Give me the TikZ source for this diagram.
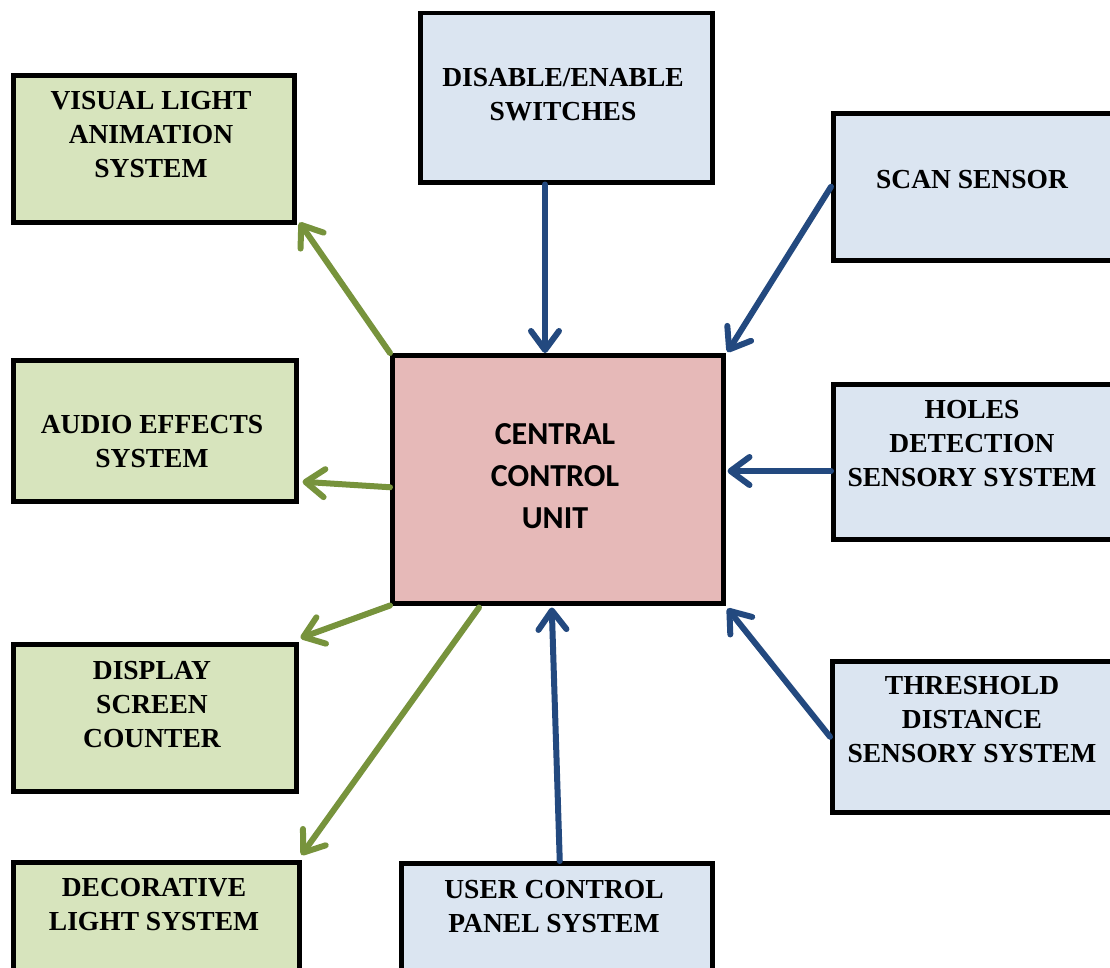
\documentclass[tikz,border=0pt]{standalone}
\usepackage{fontspec}
\setmainfont{Liberation Serif}
\newfontfamily\calib{Carlito}
\usetikzlibrary{arrows.meta,calc}
\definecolor{gfill}{HTML}{D7E4BD}
\definecolor{bfill}{HTML}{DBE5F1}
\definecolor{pfill}{HTML}{E6B9B8}
\definecolor{garrow}{HTML}{77933C}
\definecolor{barrow}{HTML}{23497F}
\begin{document}
\begin{tikzpicture}[x=1pt,y=-1pt,
  box/.style={draw=black, line width=4.5pt, inner sep=0pt, anchor=north west},
  gbox/.style={box, fill=gfill},
  bbox/.style={box, fill=bfill},
  pbox/.style={box, fill=pfill},
  txt/.style={align=center, inner sep=0pt, font=\fontsize{27.5}{34}\selectfont\bfseries},
  ctxt/.style={align=center, inner sep=0pt, font=\fontsize{32}{42}\selectfont\calib\bfseries},
  tip/.style={-{Straight Barb[length=19pt,width=28pt,line cap=round,round]}},
  garr/.style={tip, draw=garrow, line width=6pt, line cap=round},
  barr/.style={tip, draw=barrow, line width=6pt, line cap=round}]
\clip (0,0) rectangle (1110,967);
\fill[white] (0,0) rectangle (1110,967);
% boxes
\node[gbox, minimum width=281pt, minimum height=147pt] (vla) at (11,73) {};
\node[bbox, minimum width=292pt, minimum height=169.5pt] (swi) at (418,10.5) {};
\node[bbox, minimum width=300pt, minimum height=147pt] (scan) at (831,111) {};
\node[gbox, minimum width=283pt, minimum height=141pt] (aud) at (11,358) {};
\node[pbox, minimum width=331pt, minimum height=248pt] (cen) at (390,353) {};
\node[bbox, minimum width=300pt, minimum height=155pt] (hol) at (831,382) {};
\node[gbox, minimum width=283pt, minimum height=147pt] (dsp) at (11,642) {};
\node[bbox, minimum width=300pt, minimum height=151pt] (thr) at (830,659) {};
\node[gbox, minimum width=286pt, minimum height=130pt] (dec) at (11,860) {};
\node[bbox, minimum width=311pt, minimum height=130pt] (usr) at (399,861) {};
% texts
\node[txt] (tvla) at (151,135) {VISUAL LIGHT\\ANIMATION\\SYSTEM};
\node[txt] (tswi) at (563,95) {DISABLE/ENABLE\\SWITCHES};
\node[txt] (tscan) at (972,180) {SCAN SENSOR};
\node[txt] (taud) at (152,442) {AUDIO EFFECTS\\SYSTEM};
\node[ctxt] (tcen) at (555,476) {CENTRAL\\CONTROL\\UNIT};
\node[txt] (thol) at (972,444) {HOLES\\DETECTION\\SENSORY SYSTEM};
\node[txt] (tdsp) at (152,705) {DISPLAY\\SCREEN\\COUNTER};
\node[txt] (tthr) at (972,720) {THRESHOLD\\DISTANCE\\SENSORY SYSTEM};
\node[txt] (tdec) at (154,905) {DECORATIVE\\LIGHT SYSTEM};
\node[txt] (tusr) at (554,907) {USER CONTROL\\PANEL SYSTEM};
% helper coordinates
\coordinate (xa) at (545,0);
\coordinate (ya) at (0,471);
% green outputs
\draw[garr] (cen.north west) -- ($(vla.south east)+(3,-2)$);
\draw[garr] ($(cen.west)+(0,8)$) -- ($(aud.east)+(4,51)$);
\draw[garr] (cen.south west) -- ($(dsp.north east)+(2,-4)$);
\draw[garr] ($(cen.south west)+(89,2)$) -- ($(dec.north east)+(0,-5)$);
% blue inputs
\draw[barr] (swi.south -| xa) -- (cen.north -| xa);
\draw[barr] (scan.west) -- ($(cen.north east)+(2,-1)$);
\draw[barr] (hol.west |- ya) -- ($(cen.east |- ya)+(2,0)$);
\draw[barr] (thr.west) -- ($(cen.south east)+(2,3)$);
\draw[barr] ($(usr.north)+(3,0)$) -- ($(cen.south)+(-6,2)$);
\end{tikzpicture}
\end{document}
